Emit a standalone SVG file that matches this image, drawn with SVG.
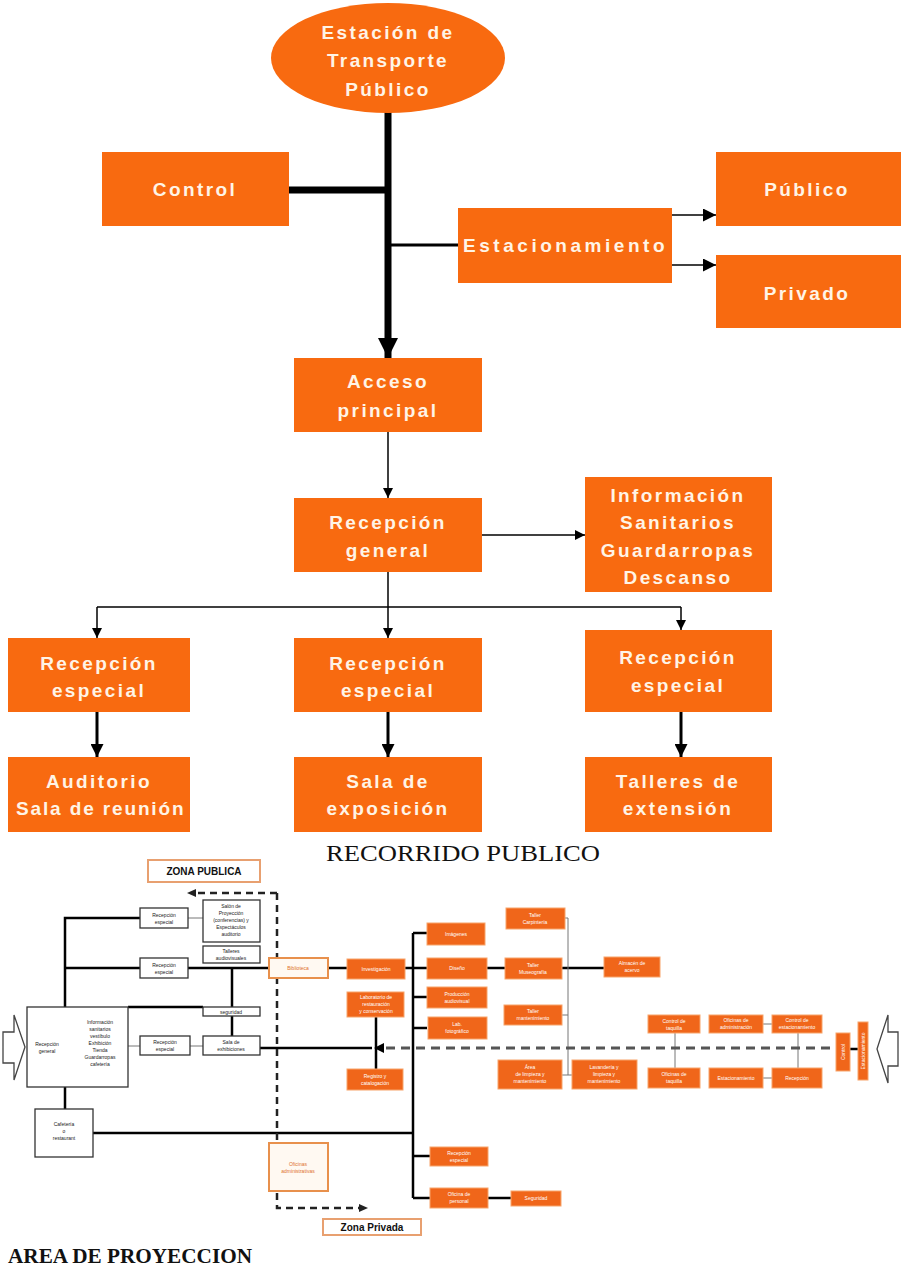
<svg xmlns="http://www.w3.org/2000/svg" width="901" height="1267" viewBox="0 0 901 1267">
<style>
.ob{fill:#F86A10}
.t{font-family:"Liberation Sans",Arial,sans-serif;font-weight:bold;font-size:19px;fill:#FFF4E6;letter-spacing:2.4px;text-anchor:middle}
.wb{fill:#fff;stroke:#333;stroke-width:1.3}
.sb{fill:#F0661A;stroke:#F7A46A;stroke-width:1}
.pb{fill:#FFF9F2;stroke:#E8904C;stroke-width:2}
.st{font-family:"Liberation Sans",Arial,sans-serif;font-size:5px;fill:#FFFFFF;text-anchor:middle}
.sk{font-family:"Liberation Sans",Arial,sans-serif;font-size:5px;fill:#222;text-anchor:middle}
.so{font-family:"Liberation Sans",Arial,sans-serif;font-size:5px;fill:#E0702A;text-anchor:middle}
.lbl{font-family:"Liberation Sans",Arial,sans-serif;font-weight:bold;font-size:10px;fill:#111;text-anchor:middle}
.cap{font-family:"Liberation Serif","Times New Roman",serif;fill:#111}
.k{stroke:#000;fill:none}
.g{stroke:#777;fill:none;stroke-width:1}
</style>
<defs>
<marker id="ah" viewBox="0 0 10 10" refX="10" refY="5" markerWidth="10" markerHeight="10" markerUnits="userSpaceOnUse" orient="auto"><path d="M0,0 L10,5 L0,10 z" fill="#000"/></marker>
<marker id="ahm" viewBox="0 0 10 10" refX="10" refY="5" markerWidth="13" markerHeight="13" markerUnits="userSpaceOnUse" orient="auto"><path d="M0,0 L10,5 L0,10 z" fill="#000"/></marker>
<marker id="ahb" viewBox="0 0 10 10" refX="10" refY="5" markerWidth="20" markerHeight="22" markerUnits="userSpaceOnUse" orient="auto"><path d="M0,0 L10,5 L0,10 z" fill="#000"/></marker>
</defs>
<rect width="901" height="1267" fill="#fff"/>

<g id="connectors">
<line class="k" x1="388" y1="112" x2="388" y2="358" stroke-width="7" marker-end="url(#ahb)"/>
<line class="k" x1="289" y1="190" x2="388" y2="190" stroke-width="7"/>
<line class="k" x1="388" y1="245" x2="458" y2="245" stroke-width="3"/>
<line class="k" x1="672" y1="215" x2="716" y2="215" stroke-width="1.5" marker-end="url(#ahm)"/>
<line class="k" x1="672" y1="265" x2="716" y2="265" stroke-width="1.5" marker-end="url(#ahm)"/>
<line class="k" x1="388" y1="432" x2="388" y2="498" stroke-width="1.5" marker-end="url(#ah)"/>
<line class="k" x1="482" y1="535" x2="585" y2="535" stroke-width="1.5" marker-end="url(#ah)"/>
<line class="k" x1="388" y1="572" x2="388" y2="607" stroke-width="1.5"/>
<line class="k" x1="97" y1="607" x2="681" y2="607" stroke-width="1.5"/>
<line class="k" x1="97" y1="607" x2="97" y2="638" stroke-width="1.5" marker-end="url(#ah)"/>
<line class="k" x1="388" y1="607" x2="388" y2="638" stroke-width="1.5" marker-end="url(#ah)"/>
<line class="k" x1="681" y1="607" x2="681" y2="630" stroke-width="1.5" marker-end="url(#ah)"/>
<line class="k" x1="97" y1="712" x2="97" y2="757" stroke-width="3" marker-end="url(#ahm)"/>
<line class="k" x1="388" y1="712" x2="388" y2="757" stroke-width="3" marker-end="url(#ahm)"/>
<line class="k" x1="681" y1="712" x2="681" y2="757" stroke-width="3" marker-end="url(#ahm)"/>

<path class="k" stroke-width="2.5" d="M140,918 H65 V1007 M65,968 H140 M188,968 H268 M232,968 V1036 M128,1007 H203 M65,1087 V1109 M93,1133 H413 M328,968 H347 M405,968 H427 M413,933 V1198 M413,933 H427 M413,997 H427 M413,1028 H427 M413,1156 H430 M413,1198 H430 M488,1198 H511 M487,968 H505 M562,968 H604 M260,1048 H372 M376,1017 V1069 M850,1049 H858"/>
<path class="g" d="M188,918 H203 M128,1046 H140 M190,1046 H203 M565,918 H568 V1075 H562 M568,1075 H572 M568,1015 H562 M675,1033 V1068 M763,1024 H772 M763,1078 H772 M798,1033 V1068"/>
<line x1="386" y1="1048" x2="836" y2="1048" stroke="#555" stroke-width="3" stroke-dasharray="9,6"/>
<polygon points="374,1048 384,1043 384,1053" fill="#000"/>
<path d="M277,893 H196 M277,893 V1208 H360" fill="none" stroke="#222" stroke-width="2.5" stroke-dasharray="7,5"/>
<polygon points="187,893 196,889 196,897" fill="#222"/>
<polygon points="368,1208 359,1204 359,1212" fill="#222"/>
</g>

<g id="estacion"><ellipse class="ob" cx="388" cy="58" rx="117" ry="55"/>
<text class="t" x="388" y="39">Estación de</text><text class="t" x="388" y="67">Transporte</text><text class="t" x="388" y="96">Público</text></g>
<g id="control"><rect class="ob" x="102" y="152" width="187" height="74"/><text class="t" x="195" y="196">Control</text></g>
<g id="estacionamiento"><rect class="ob" x="458" y="208" width="214" height="75"/><text class="t" x="565" y="252" textLength="204">Estacionamiento</text></g>
<g id="publico"><rect class="ob" x="716" y="152" width="185" height="74"/><text class="t" x="807" y="196">Público</text></g>
<g id="privado"><rect class="ob" x="716" y="255" width="185" height="73"/><text class="t" x="807" y="300">Privado</text></g>
<g id="acceso"><rect class="ob" x="294" y="358" width="188" height="74"/><text class="t" x="388" y="388">Acceso</text><text class="t" x="388" y="417">principal</text></g>
<g id="recepcion-general"><rect class="ob" x="294" y="498" width="188" height="74"/><text class="t" x="388" y="529">Recepción</text><text class="t" x="388" y="557">general</text></g>
<g id="informacion"><rect class="ob" x="585" y="477" width="187" height="115"/><text class="t" x="678" y="502">Información</text><text class="t" x="678" y="529">Sanitarios</text><text class="t" x="678" y="557">Guardarropas</text><text class="t" x="678" y="584">Descanso</text></g>
<g id="rec-esp-1"><rect class="ob" x="8" y="638" width="182" height="74"/><text class="t" x="99" y="670">Recepción</text><text class="t" x="99" y="697">especial</text></g>
<g id="rec-esp-2"><rect class="ob" x="294" y="638" width="188" height="74"/><text class="t" x="388" y="670">Recepción</text><text class="t" x="388" y="697">especial</text></g>
<g id="rec-esp-3"><rect class="ob" x="585" y="630" width="187" height="82"/><text class="t" x="678" y="664">Recepción</text><text class="t" x="678" y="692">especial</text></g>
<g id="auditorio"><rect class="ob" x="8" y="757" width="182" height="75"/><text class="t" x="99" y="788">Auditorio</text><text class="t" x="101" y="815" textLength="170">Sala de reunión</text></g>
<g id="sala-exposicion"><rect class="ob" x="294" y="757" width="188" height="75"/><text class="t" x="388" y="788">Sala de</text><text class="t" x="388" y="815">exposición</text></g>
<g id="talleres"><rect class="ob" x="585" y="757" width="187" height="75"/><text class="t" x="678" y="788">Talleres de</text><text class="t" x="678" y="815">extensión</text></g>

<text class="cap" x="463" y="861" font-size="24" text-anchor="middle" textLength="274" lengthAdjust="spacingAndGlyphs">RECORRIDO PUBLICO</text>

<g id="zona-publica"><rect x="148" y="860" width="112" height="22" fill="#fff" stroke="#E8A070" stroke-width="2"/><text class="lbl" x="204" y="875">ZONA PUBLICA</text></g>
<g id="zona-privada"><rect x="323" y="1219" width="98" height="16" fill="#fff" stroke="#E8A070" stroke-width="2"/><text class="lbl" x="372" y="1231">Zona Privada</text></g>
<g id="le-recesp1"><rect class="wb" x="140" y="908" width="48" height="20"/><text class="sk" x="164" y="917">Recepción</text><text class="sk" x="164" y="924">especial</text></g>
<g id="le-salon"><rect class="wb" x="203" y="900" width="57" height="42"/><text class="sk" x="231" y="908">Salón de</text><text class="sk" x="231" y="915">Proyección</text><text class="sk" x="231" y="922">(conferencias) y</text><text class="sk" x="231" y="929">Espectáculos</text><text class="sk" x="231" y="936">auditorio</text></g>
<g id="le-talleres"><rect class="wb" x="203" y="946" width="57" height="17"/><text class="sk" x="231" y="953">Talleres</text><text class="sk" x="231" y="960">audiovisuales</text></g>
<g id="le-recesp2"><rect class="wb" x="140" y="958" width="48" height="20"/><text class="sk" x="164" y="967">Recepción</text><text class="sk" x="164" y="974">especial</text></g>
<g id="le-seguridad"><rect class="wb" x="203" y="1007" width="57" height="9"/><text class="sk" x="231" y="1014">seguridad</text></g>
<g id="le-recesp3"><rect class="wb" x="140" y="1036" width="50" height="19"/><text class="sk" x="165" y="1044">Recepción</text><text class="sk" x="165" y="1051">especial</text></g>
<g id="le-sala-exhib"><rect class="wb" x="203" y="1036" width="57" height="19"/><text class="sk" x="231" y="1044">Sala de</text><text class="sk" x="231" y="1051">exhibiciones</text></g>
<g id="le-recgeneral"><rect class="wb" x="27" y="1007" width="101" height="80"/><text class="sk" x="47" y="1046">Recepción</text><text class="sk" x="47" y="1053">general</text><text class="sk" x="100" y="1024">Información</text><text class="sk" x="100" y="1031">sanitarios</text><text class="sk" x="100" y="1038">vestíbulo</text><text class="sk" x="100" y="1045">Exhibición</text><text class="sk" x="100" y="1052">Tienda</text><text class="sk" x="100" y="1059">Guardarropas</text><text class="sk" x="100" y="1066">cafetería</text></g>
<g id="le-cafeteria"><rect class="wb" x="35" y="1109" width="58" height="48"/><text class="sk" x="64" y="1126">Cafetería</text><text class="sk" x="64" y="1133">o</text><text class="sk" x="64" y="1140">restaurant</text></g>
<g id="le-arrow-left"><path d="M3,1032 H14 V1015 L25,1047 L14,1080 V1063 H3 Z" fill="#fff" stroke="#444" stroke-width="1.3"/></g>
<g id="le-arrow-right"><path d="M898,1032 H888 V1015 L877,1049 L888,1083 V1066 H898 Z" fill="#fff" stroke="#444" stroke-width="1.3"/></g>
<g id="le-biblioteca"><rect class="pb" x="269" y="958" width="59" height="20"/><text class="so" x="298" y="970">Biblioteca</text></g>
<g id="le-oficinas-adm"><rect class="pb" x="269" y="1143" width="59" height="48"/><text class="so" x="298" y="1166">Oficinas</text><text class="so" x="298" y="1173">administrativas</text></g>
<g id="le-investigacion"><rect class="sb" x="347" y="959" width="58" height="20"/><text class="st" x="376" y="971">Investigación</text></g>
<g id="le-laboratorio"><rect class="sb" x="347" y="992" width="57" height="25"/><text class="st" x="376" y="999">Laboratorio de</text><text class="st" x="376" y="1006">restauración</text><text class="st" x="376" y="1013">y conservación</text></g>
<g id="le-registro"><rect class="sb" x="347" y="1069" width="56" height="21"/><text class="st" x="375" y="1078">Registro y</text><text class="st" x="375" y="1085">catalogación</text></g>
<g id="le-imagenes"><rect class="sb" x="427" y="923" width="58" height="22"/><text class="st" x="456" y="936">Imágenes</text></g>
<g id="le-diseno"><rect class="sb" x="427" y="958" width="60" height="21"/><text class="st" x="457" y="970">Diseño</text></g>
<g id="le-produccion"><rect class="sb" x="427" y="987" width="60" height="21"/><text class="st" x="457" y="996">Producción</text><text class="st" x="457" y="1003">audiovisual</text></g>
<g id="le-lab-foto"><rect class="sb" x="428" y="1017" width="59" height="22"/><text class="st" x="457" y="1026">Lab.</text><text class="st" x="457" y="1033">fotográfico</text></g>
<g id="le-taller-carp"><rect class="sb" x="506" y="908" width="59" height="21"/><text class="st" x="535" y="917">Taller</text><text class="st" x="535" y="924">Carpintería</text></g>
<g id="le-taller-mus"><rect class="sb" x="505" y="958" width="57" height="21"/><text class="st" x="533" y="967">Taller</text><text class="st" x="533" y="974">Museografía</text></g>
<g id="le-almacen"><rect class="sb" x="604" y="957" width="56" height="20"/><text class="st" x="632" y="965">Almacén de</text><text class="st" x="632" y="972">acervo</text></g>
<g id="le-taller-mant"><rect class="sb" x="504" y="1005" width="58" height="20"/><text class="st" x="533" y="1013">Taller</text><text class="st" x="533" y="1020">mantenimiento</text></g>
<g id="le-area-limp"><rect class="sb" x="498" y="1060" width="64" height="29"/><text class="st" x="530" y="1069">Área</text><text class="st" x="530" y="1076">de limpieza y</text><text class="st" x="530" y="1083">mantenimiento</text></g>
<g id="le-lavanderia"><rect class="sb" x="572" y="1060" width="65" height="29"/><text class="st" x="604" y="1069">Lavandería y</text><text class="st" x="604" y="1076">limpieza y</text><text class="st" x="604" y="1083">mantenimiento</text></g>
<g id="le-rec-esp-priv"><rect class="sb" x="430" y="1147" width="58" height="19"/><text class="st" x="459" y="1155">Recepción</text><text class="st" x="459" y="1162">especial</text></g>
<g id="le-oficina-pers"><rect class="sb" x="430" y="1188" width="58" height="20"/><text class="st" x="459" y="1196">Oficina de</text><text class="st" x="459" y="1203">personal</text></g>
<g id="le-seguridad2"><rect class="sb" x="511" y="1191" width="50" height="15"/><text class="st" x="536" y="1200">Seguridad</text></g>
<g id="le-control-taq"><rect class="sb" x="648" y="1015" width="52" height="18"/><text class="st" x="674" y="1023">Control de</text><text class="st" x="674" y="1030">taquilla</text></g>
<g id="le-oficina-taq"><rect class="sb" x="648" y="1068" width="52" height="20"/><text class="st" x="674" y="1076">Oficinas de</text><text class="st" x="674" y="1083">taquilla</text></g>
<g id="le-oficina-adm"><rect class="sb" x="709" y="1015" width="54" height="18"/><text class="st" x="736" y="1022">Oficinas de</text><text class="st" x="736" y="1029">administración</text></g>
<g id="le-control-est"><rect class="sb" x="772" y="1015" width="50" height="18"/><text class="st" x="797" y="1022">Control de</text><text class="st" x="797" y="1029">estacionamiento</text></g>
<g id="le-estac"><rect class="sb" x="709" y="1068" width="54" height="20"/><text class="st" x="736" y="1080">Estacionamiento</text></g>
<g id="le-recepcion-r"><rect class="sb" x="772" y="1068" width="50" height="20"/><text class="st" x="797" y="1080">Recepción</text></g>
<g id="le-control-v"><rect class="sb" x="836" y="1033" width="14" height="38"/><text class="st" transform="translate(845,1052) rotate(-90)">Control</text></g>
<g id="le-estac-v"><rect class="sb" x="858" y="1022" width="10" height="58"/><text class="st" transform="translate(865,1051) rotate(-90)">Estacionamiento</text></g>

<text class="cap" x="8" y="1263" font-size="20" font-weight="bold" textLength="244" lengthAdjust="spacingAndGlyphs">AREA DE PROYECCION</text>
</svg>
